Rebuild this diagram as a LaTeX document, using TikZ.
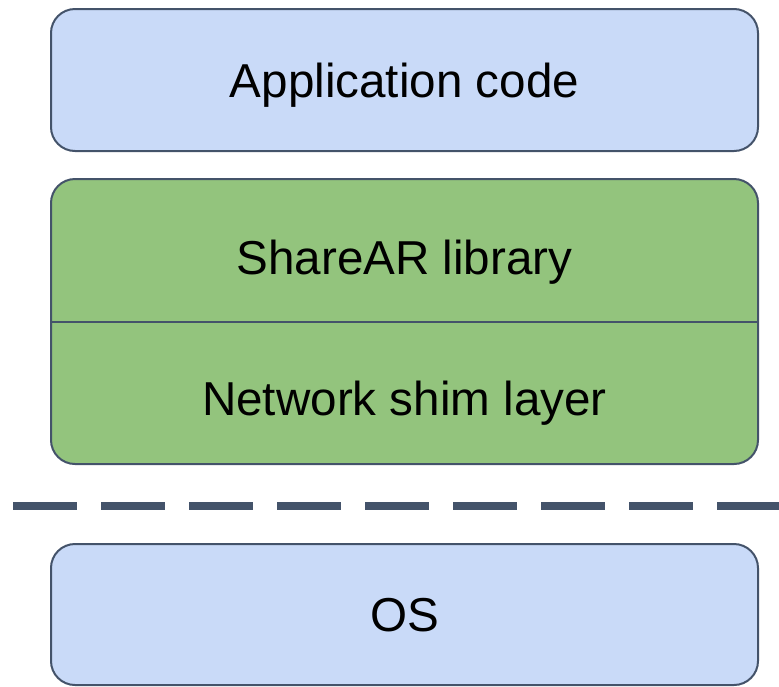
\documentclass[tikz,border=0pt]{standalone}
\usepackage{fontspec}
\setmainfont{Liberation Sans}
\definecolor{layerblue}{HTML}{C9DAF8}
\definecolor{layergreen}{HTML}{93C47D}
\definecolor{edgeslate}{HTML}{44536A}
\tikzset{
  layer/.style={draw=edgeslate, line width=2pt, rounded corners=24pt,
    minimum width=707pt, inner sep=0pt},
  label/.style={font=\fontsize{47.6pt}{56pt}\selectfont, text=black,
    text height=34pt, text depth=0pt, inner sep=0pt},
}
\begin{document}
\begin{tikzpicture}[x=1pt, y=-1pt]
  \useasboundingbox (0,0) rectangle (779,686);
  % application layer
  \node[layer, fill=layerblue, minimum height=142pt] (app) at (404.5,80) {};
  \node[label] (apptext) at (app.center) {Application code};
  % library stack with shim layer underneath
  \node[layer, fill=layergreen, minimum height=285pt] (lib) at (404.5,321.5) {};
  \draw[edgeslate, line width=2pt] (lib.west) -- (lib.east);
  \node[label] (libtext) at (404.5,257) {ShareAR library};
  \node[label] (shimtext) at (404.5,398) {Network shim layer};
  % user/kernel boundary
  \coordinate (sepL) at (13,506);
  \coordinate (sepR) at (779,506);
  \draw[edgeslate, line width=8pt, dash pattern=on 64pt off 24pt] (sepL) -- (sepR);
  % operating system layer
  \node[layer, fill=layerblue, minimum height=141pt] (os) at (404.5,614.5) {};
  \node[label] (ostext) at (os.center) {OS};
\end{tikzpicture}
\end{document}
